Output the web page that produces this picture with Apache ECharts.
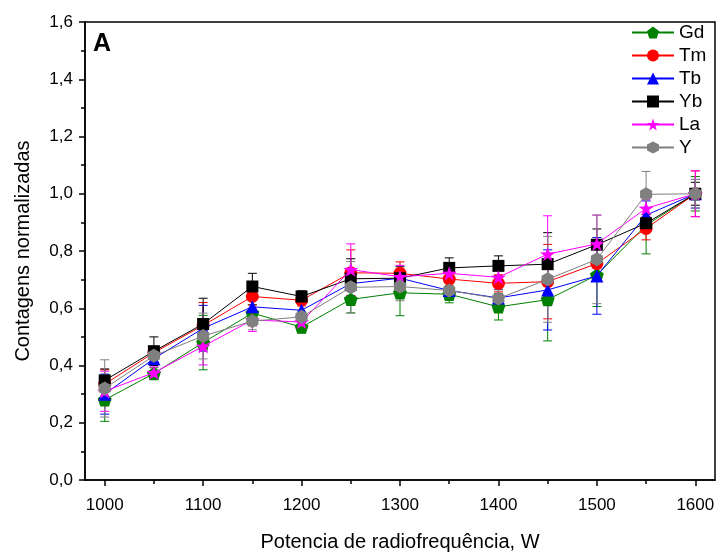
<!DOCTYPE html>
<html>
<head>
<meta charset="utf-8">
<script src="https://cdn.jsdelivr.net/npm/echarts@6/dist/echarts.min.js"></script>
<style>html,body{margin:0;padding:0;background:#fff}#c{width:719px;height:557px}</style>
</head>
<body>
<div id="c"></div>
<script>
const power = [1000,1050,1100,1150,1200,1250,1300,1350,1400,1450,1500,1550,1600];
const Gd = [0.28,0.372,0.48,0.583,0.534,0.631,0.654,0.649,0.605,0.630,0.716,0.89,1.0];
const Tm = [0.335,0.445,0.54,0.641,0.628,0.724,0.722,0.702,0.687,0.693,0.756,0.879,1.0];
const Tb = [0.30,0.424,0.53,0.605,0.593,0.686,0.705,0.662,0.636,0.664,0.713,0.925,1.0];
const Yb = [0.348,0.45,0.545,0.676,0.641,0.703,0.705,0.741,0.748,0.754,0.822,0.897,1.0];
const La = [0.31,0.375,0.467,0.559,0.552,0.735,0.71,0.722,0.708,0.789,0.825,0.949,1.0];
const Y  = [0.32,0.434,0.503,0.555,0.57,0.673,0.676,0.662,0.634,0.701,0.771,0.998,1.0];
const GdErr = [0.075,0.02,0.095,0.03,0.02,0.047,0.08,0.03,0.046,0.144,0.11,0.10,0.06];
const TmErr = [0.05,0.02,0.08,0.03,0.02,0.08,0.04,0.03,0.03,0.13,0.05,0.04,0.08];
const TbErr = [0.07,0.02,0.08,0.03,0.02,0.05,0.03,0.03,0.03,0.14,0.134,0.05,0.05];
const YbErr = [0.04,0.05,0.09,0.046,0.02,0.07,0.04,0.035,0.035,0.11,0.055,0.03,0.04];
const LaErr = [0.07,0.02,0.065,0.04,0.02,0.09,0.04,0.03,0.03,0.134,0.10,0.03,0.08];
const YErr  = [0.10,0.02,0.08,0.03,0.02,0.09,0.05,0.03,0.03,0.15,0.155,0.08,0.05];
const majorTicks = [1000,1100,1200,1300,1400,1500,1600];
const minorTicks = [1050,1150,1250,1350,1450,1550];

const PENT = 'path://M0,-10 L9.51,-3.09 L5.88,8.09 L-5.88,8.09 L-9.51,-3.09 Z';
const HEX = 'path://M0,-10 L8.66,-5 L8.66,5 L0,10 L-8.66,5 L-8.66,-5 Z';
const STAR = 'path://M0,-10 L2.35,-3.24 L9.51,-3.09 L3.80,1.24 L5.88,8.09 L0,4 L-5.88,8.09 L-3.80,1.24 L-9.51,-3.09 L-2.35,-3.24 Z';

const defs = [
  {name:'Gd', vals:Gd, err:GdErr, color:'#008000', symbol:PENT, size:14},
  {name:'Tm', vals:Tm, err:TmErr, color:'#ff0000', symbol:'circle', size:13},
  {name:'Tb', vals:Tb, err:TbErr, color:'#0000ff', symbol:'triangle', size:13},
  {name:'Yb', vals:Yb, err:YbErr, color:'#000000', symbol:'rect', size:12},
  {name:'La', vals:La, err:LaErr, color:'#ff00ff', symbol:STAR, size:15},
  {name:'Y',  vals:Y,  err:YErr,  color:'#808080', symbol:HEX, size:14}
];

const series = [];
defs.forEach((d, i) => {
  series.push({
    name: d.name + ' err', type: 'custom', z: 2,
    data: power.map((x, k) => [x, d.vals[k] - d.err[k], d.vals[k] + d.err[k]]),
    renderItem: function (params, api) {
      const lo = api.coord([api.value(0), api.value(1)]);
      const hi = api.coord([api.value(0), api.value(2)]);
      const w = 4.5;
      const st = {stroke: d.color, lineWidth: 1};
      return {type: 'group', children: [
        {type: 'line', shape: {x1: lo[0], y1: lo[1], x2: hi[0], y2: hi[1]}, style: st},
        {type: 'line', shape: {x1: lo[0]-w, y1: lo[1], x2: lo[0]+w, y2: lo[1]}, style: st},
        {type: 'line', shape: {x1: hi[0]-w, y1: hi[1], x2: hi[0]+w, y2: hi[1]}, style: st}
      ]};
    },
    silent: true, animation: false
  });
});
defs.forEach((d, i) => {
  series.push({
    name: d.name, type: 'line', z: 3 + i,
    data: power.map((x, k) => [x, d.vals[k]]),
    symbol: d.symbol, symbolSize: d.size, symbolKeepAspect: true,
    showAllSymbol: true,
    lineStyle: {color: d.color, width: 1},
    itemStyle: {color: d.color, borderWidth: 0},
    emphasis: {disabled: true},
    animation: false
  });
});

const chart = echarts.init(document.getElementById('c'), null, {renderer: 'canvas'});
chart.setOption({
  backgroundColor: '#fff',
  textStyle: {fontFamily: 'Liberation Sans, Arial, sans-serif'},
  grid: {left: 85, top: 22, right: 4, bottom: 69, show: true, borderColor: '#000', borderWidth: 1.5, containLabel: false},
  legend: {
    data: defs.map(d => d.name), orient: 'vertical', left: 626, top: 18,
    itemWidth: 42, itemHeight: 15, itemGap: 4,
    textStyle: {fontSize: 19, color: '#000', fontFamily: 'Liberation Sans, Arial, sans-serif'},
    selectedMode: false
  },
  xAxis: [{
    type: 'value', min: 980, max: 1620,
    name: 'Potencia de radiofrequência, W', nameLocation: 'middle', nameGap: 52,
    nameTextStyle: {fontSize: 20, color: '#000'},
    axisLine: {show: true, lineStyle: {color: '#000', width: 1.5}},
    axisTick: {show: true, inside: false, length: 6, customValues: majorTicks, lineStyle: {color: '#000', width: 1.5}},
    axisLabel: {show: true, customValues: majorTicks, fontSize: 17, color: '#000', margin: 17, formatter: v => String(v)},
    splitLine: {show: false}
  }, {
    type: 'value', min: 980, max: 1620, position: 'bottom',
    axisLine: {show: false},
    axisTick: {show: true, inside: false, length: 4, customValues: minorTicks, lineStyle: {color: '#000', width: 1.5}},
    axisLabel: {show: false},
    splitLine: {show: false}
  }],
  yAxis: {
    type: 'value', min: 0, max: 1.6, interval: 0.2,
    name: 'Contagens normalizadas', nameLocation: 'middle', nameGap: 52,
    nameTextStyle: {fontSize: 20, color: '#000'},
    axisLine: {show: true, lineStyle: {color: '#000', width: 1.5}},
    axisTick: {show: true, inside: false, length: 6, lineStyle: {color: '#000', width: 1.5}},
    minorTick: {show: true, splitNumber: 2, length: 4, lineStyle: {color: '#000', width: 1.5}},
    axisLabel: {fontSize: 17, color: '#000', margin: 12, formatter: v => v.toFixed(1).replace('.', ',')},
    splitLine: {show: false}
  },
  graphic: [{type: 'text', left: 93, top: 32, style: {text: 'A', font: 'bold 25px Liberation Sans, Arial, sans-serif', fill: '#000'}}],
  series: series
});
</script>
</body>
</html>
